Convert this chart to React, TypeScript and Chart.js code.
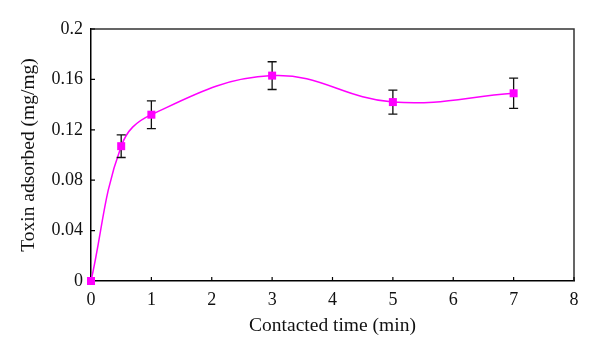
import React, { useEffect, useRef } from "react";
import { Chart, registerables } from "chart.js";
Chart.register(...registerables);

const times = [0, 0.5, 1, 3, 5, 7];
const adsorbed = [0, 0.107, 0.132, 0.163, 0.142, 0.149];
const errors = [0, 0.009, 0.011, 0.011, 0.0095, 0.012];
const xTicks = [0, 1, 2, 3, 4, 5, 6, 7, 8];
const yTicks = [0, 0.04, 0.08, 0.12, 0.16, 0.2];

const FONT = "'Liberation Serif', 'DejaVu Serif', serif";

const decorPlugin = {
  id: "decor",
  afterDatasetsDraw(chart: any) {
    const { ctx, chartArea, scales } = chart;
    const xs = scales.x;
    const ys = scales.y;
    ctx.save();
    ctx.strokeStyle = "#333";
    ctx.lineWidth = 1.5;
    ctx.beginPath();
    ctx.moveTo(chartArea.left, chartArea.top);
    ctx.lineTo(chartArea.right, chartArea.top);
    ctx.lineTo(chartArea.right, chartArea.bottom);
    ctx.stroke();
    ctx.strokeStyle = "#000";
    ctx.lineWidth = 1.2;
    ctx.beginPath();
    xTicks.forEach((t) => {
      const px = xs.getPixelForValue(t);
      ctx.moveTo(px, chartArea.bottom);
      ctx.lineTo(px, chartArea.bottom - 4);
    });
    yTicks.forEach((t) => {
      const py = ys.getPixelForValue(t);
      ctx.moveTo(chartArea.left, py);
      ctx.lineTo(chartArea.left + 4, py);
    });
    ctx.stroke();
    ctx.strokeStyle = "#111";
    ctx.lineWidth = 1.3;
    ctx.beginPath();
    times.forEach((t, i) => {
      const e = errors[i];
      if (!e) return;
      const px = xs.getPixelForValue(t);
      const top = ys.getPixelForValue(adsorbed[i] + e);
      const bot = ys.getPixelForValue(adsorbed[i] - e);
      ctx.moveTo(px, top);
      ctx.lineTo(px, bot);
      ctx.moveTo(px - 4.5, top);
      ctx.lineTo(px + 4.5, top);
      ctx.moveTo(px - 4.5, bot);
      ctx.lineTo(px + 4.5, bot);
    });
    ctx.stroke();
    ctx.fillStyle = "#ff00ff";
    times.forEach((t, i) => {
      const px = xs.getPixelForValue(t);
      const py = ys.getPixelForValue(adsorbed[i]);
      ctx.fillRect(px - 4, py - 4, 8, 8);
    });
    ctx.restore();
  },
};

export default function App() {
  const ref = useRef<HTMLCanvasElement>(null);
  useEffect(() => {
    document.body.style.margin = "0";
    const chart = new Chart(ref.current!, {
      type: "line",
      data: {
        datasets: [
          {
            data: times.map((t, i) => ({ x: t, y: adsorbed[i] })),
            borderColor: "#ff00ff",
            backgroundColor: "#ff00ff",
            borderWidth: 1.5,
            tension: 0.4,
            pointStyle: "rect",
            pointRadius: 0,
            clip: false as any,
          },
        ],
      },
      options: {
        animation: false,
        responsive: false,
        layout: { padding: { left: 14, top: 29, right: 26, bottom: 18 } },
        plugins: { legend: { display: false }, tooltip: { enabled: false } },
        scales: {
          x: {
            type: "linear",
            min: 0,
            max: 8,
            afterFit: (s: any) => {
              s.height = 60;
            },
            afterBuildTicks: (s: any) => {
              s.ticks = xTicks.map((v) => ({ value: v }));
            },
            grid: { display: false, drawTicks: false },
            border: { color: "#000", width: 1.5 },
            ticks: {
              color: "#111",
              font: { family: FONT, size: 18 },
              padding: 8,
              callback: (v: any) => String(v),
            },
            title: {
              display: true,
              text: "Contacted time (min)",
              color: "#111",
              font: { family: FONT, size: 19.5 },
              padding: { top: 4, bottom: 3 },
            },
          },
          y: {
            type: "linear",
            min: 0,
            max: 0.2,
            afterFit: (s: any) => {
              s.width = 77;
            },
            afterBuildTicks: (s: any) => {
              s.ticks = yTicks.map((v) => ({ value: v }));
            },
            grid: { display: false, drawTicks: false },
            border: { color: "#000", width: 1.5 },
            ticks: {
              color: "#111",
              font: { family: FONT, size: 18 },
              padding: 8,
              callback: (v: any) => String(Math.round(v * 100) / 100),
            },
            title: {
              display: true,
              text: "Toxin adsorbed (mg/mg)",
              color: "#111",
              font: { family: FONT, size: 19.5 },
              padding: { top: 3, bottom: 0 },
            },
          },
        },
      },
      plugins: [decorPlugin],
    });
    return () => chart.destroy();
  }, []);
  return (
    <div style={{ position: "absolute", left: 0, top: 0, width: 600, height: 359, background: "#fff" }}>
      <canvas ref={ref} width={600} height={359} />
    </div>
  );
}
